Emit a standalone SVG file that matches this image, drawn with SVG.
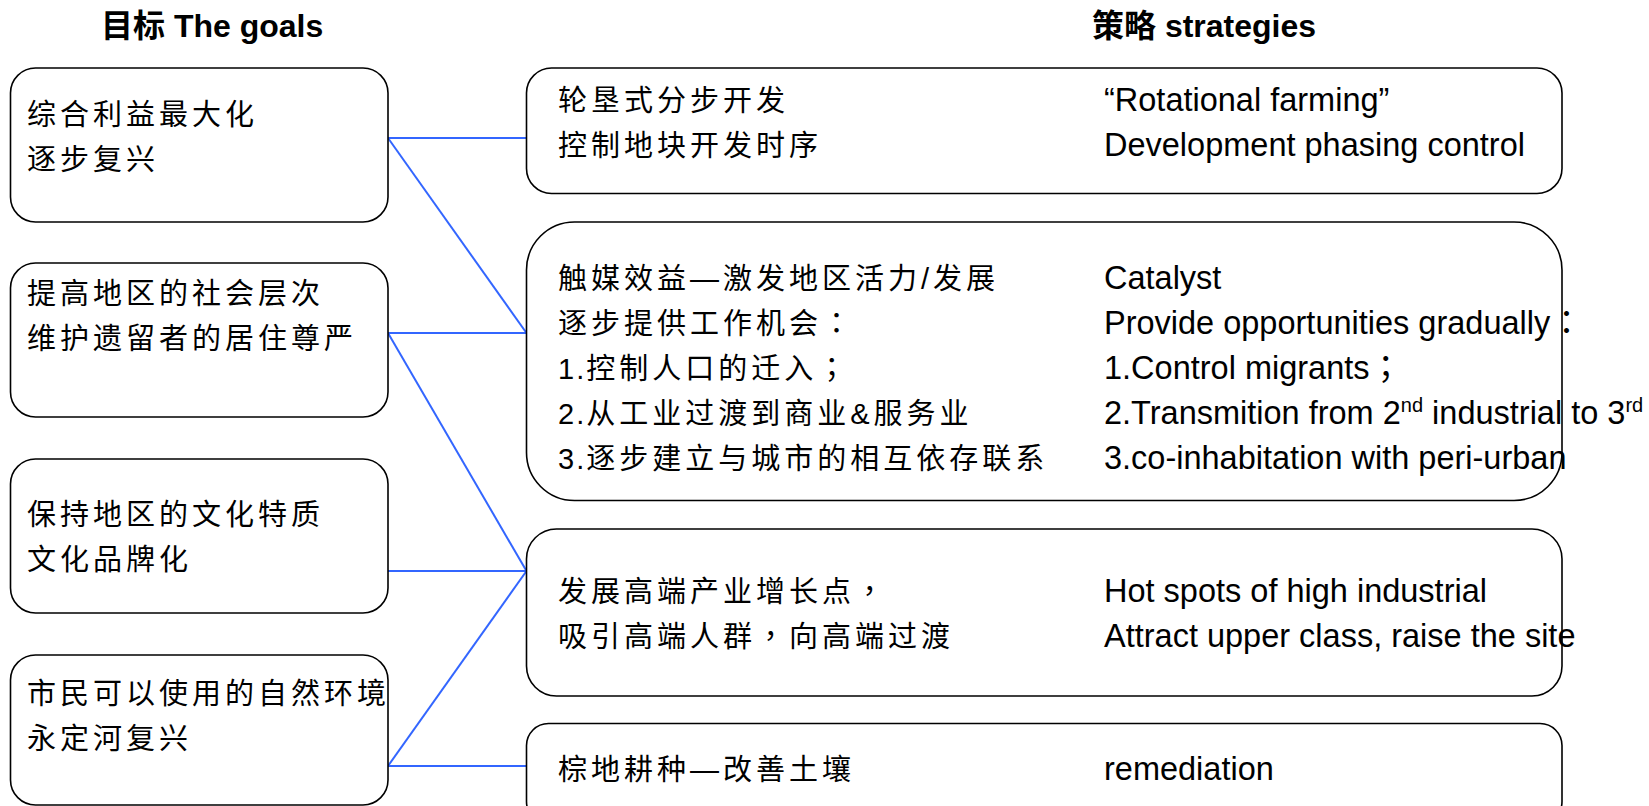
<svg xmlns="http://www.w3.org/2000/svg" width="1649" height="806" viewBox="0 0 1649 806">
<style>
.box{fill:#fff;stroke:#000;stroke-width:1.6}
.cn{font-family:"Liberation Sans","Noto Sans CJK SC",sans-serif;font-size:29px;letter-spacing:4px;fill:#000}
.en{font-family:"Liberation Sans","Noto Sans CJK SC",sans-serif;font-size:32.5px;fill:#000}
.title{font-family:"Liberation Sans","Noto Sans CJK SC",sans-serif;font-size:32px;font-weight:bold;fill:#000}
.num{letter-spacing:2px}
.p{font-family:"Noto Sans CJK TC",sans-serif}
.sup{font-size:20px}
.link{stroke:#3366ff;stroke-width:2;fill:none}
</style>
<rect width="1649" height="806" fill="#fff"/>
<text class="title" x="101" y="36.5">目标 The goals</text>
<text class="title" x="1092" y="36.5">策略 strategies</text>

<g id="connectors">
<line class="link" x1="388" y1="138" x2="526.5" y2="138"/>
<line class="link" x1="388" y1="138" x2="526.5" y2="333"/>
<line class="link" x1="388" y1="333" x2="526.5" y2="333"/>
<line class="link" x1="388" y1="333" x2="526.5" y2="571"/>
<line class="link" x1="388" y1="571" x2="526.5" y2="571"/>
<line class="link" x1="388" y1="766" x2="526.5" y2="571"/>
<line class="link" x1="388" y1="766" x2="526.5" y2="766"/>
</g>

<g id="goal1">
<rect class="box" x="10.5" y="68" width="377.5" height="154" rx="25"/>
<text class="cn" x="27" y="125">综合利益最大化</text>
<text class="cn" x="27" y="170">逐步复兴</text>
</g>
<g id="goal2">
<rect class="box" x="10.5" y="263" width="377.5" height="154" rx="25"/>
<text class="cn" x="27" y="303.5">提高地区的社会层次</text>
<text class="cn" x="27" y="348.5">维护遗留者的居住尊严</text>
</g>
<g id="goal3">
<rect class="box" x="10.5" y="459" width="377.5" height="154" rx="25"/>
<text class="cn" x="27" y="525">保持地区的文化特质</text>
<text class="cn" x="27" y="569.5">文化品牌化</text>
</g>
<g id="goal4">
<rect class="box" x="10.5" y="655" width="377.5" height="150" rx="25"/>
<text class="cn" x="27" y="703.5">市民可以使用的自然环境</text>
<text class="cn" x="27" y="748.5">永定河复兴</text>
</g>

<g id="strategy1">
<rect class="box" x="526.5" y="68" width="1035.5" height="125.5" rx="25"/>
<text class="cn" x="558" y="111">轮垦式分步开发</text>
<text class="cn" x="558" y="156">控制地块开发时序</text>
<text class="en" x="1104" y="111">“Rotational farming”</text>
<text class="en" x="1104" y="156">Development phasing control</text>
</g>
<g id="strategy2">
<rect class="box" x="526.5" y="222" width="1035.5" height="278.5" rx="48"/>
<text class="cn" x="558" y="289">触媒效益—激发地区活力/发展</text>
<text class="cn" x="558" y="334">逐步提供工作机会<tspan class="p">：</tspan></text>
<text class="cn" x="558" y="379"><tspan class="num">1.</tspan>控制人口的迁入<tspan class="p">；</tspan></text>
<text class="cn" x="558" y="424"><tspan class="num">2.</tspan>从工业过渡到商业&amp;服务业</text>
<text class="cn" x="558" y="469"><tspan class="num">3.</tspan>逐步建立与城市的相互依存联系</text>
<text class="en" x="1104" y="289">Catalyst</text>
<text class="en" x="1104" y="334">Provide opportunities gradually<tspan class="p">：</tspan></text>
<text class="en" x="1104" y="379">1.Control migrants<tspan class="p">；</tspan></text>
<text class="en" x="1104" y="424">2.Transmition from 2<tspan class="sup" dy="-12">nd</tspan><tspan dy="12"> industrial to 3</tspan><tspan class="sup" dy="-12">rd</tspan></text>
<text class="en" x="1104" y="469">3.co-inhabitation with peri-urban</text>
</g>
<g id="strategy3">
<rect class="box" x="526.5" y="529" width="1035.5" height="167" rx="30"/>
<text class="cn" x="558" y="602">发展高端产业增长点<tspan class="p">，</tspan></text>
<text class="cn" x="558" y="647">吸引高端人群<tspan class="p">，</tspan>向高端过渡</text>
<text class="en" x="1104" y="602">Hot spots of high industrial</text>
<text class="en" x="1104" y="647">Attract upper class, raise the site</text>
</g>
<g id="strategy4">
<rect class="box" x="526.5" y="723.5" width="1035.5" height="100" rx="22"/>
<text class="cn" x="558" y="780">棕地耕种—改善土壤</text>
<text class="en" x="1104" y="780">remediation</text>
</g>
</svg>
